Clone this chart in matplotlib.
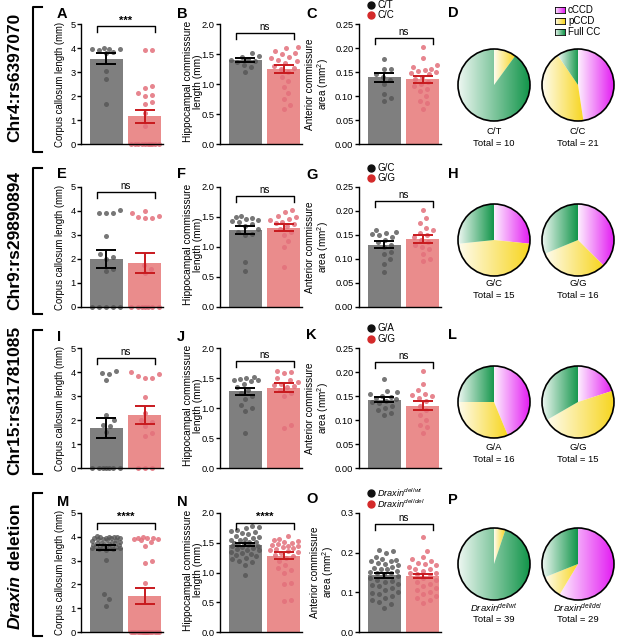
import numpy as np
import matplotlib
matplotlib.use("Agg")
import matplotlib.pyplot as plt
from matplotlib.lines import Line2D
from matplotlib.patches import Circle

plt.rcParams['font.family'] = ['Liberation Sans', 'DejaVu Sans']
plt.rcParams['mathtext.fontset'] = 'custom'
plt.rcParams['mathtext.rm'] = 'Liberation Sans'
plt.rcParams['mathtext.it'] = 'Liberation Sans:italic'
plt.rcParams['mathtext.bf'] = 'Liberation Sans:bold'

# ---------------- data ----------------
row_labels = ["Chr4:rs6397070", "Chr9:rs29890894", "Chr15:rs31781085", "Draxin deletion"]
group_labels = [["C/T", "C/C"], ["G/C", "G/G"], ["G/A", "G/G"],
                [r"$Draxin^{del/wt}$", r"$Draxin^{del/del}$"]]
pie_totals = [[10, 21], [15, 16], [16, 15], [39, 29]]
pie_categories = ["cCCD", "pCCD", "Full CC"]
# counts [cCCD, pCCD, Full CC]
pie_D = [[0, 1, 9], [10, 9, 2]]
pie_H = [[4, 7, 4], [6, 5, 5]]
pie_L = [[7, 5, 4], [3, 7, 5]]
pie_P = [[0, 2, 37], [17, 3, 9]]

A_g = [3.95, 3.95, 4.0, 3.95, 3.9, 3.78, 3.82, 3.05, 2.72, 1.67]
A_r = [0, 0, 0, 0, 0, 0, 0, 0, 0, 0, 3.93, 3.92, 2.42, 2.35, 2.12, 2.0, 2.05, 1.75, 1.65, 1.3, 0.75]
B_g = [1.52, 1.47, 1.45, 1.42, 1.40, 1.38, 1.37, 1.32, 1.28, 1.2]
B_r = [1.62, 1.6, 1.55, 1.52, 1.5, 1.45, 1.43, 1.4, 1.38, 1.35, 1.3, 1.27, 1.25, 1.2, 1.12,
       1.05, 0.95, 0.85, 0.75, 0.65, 0.58]
C_g = [0.177, 0.157, 0.156, 0.145, 0.14, 0.133, 0.125, 0.105, 0.095, 0.09]
C_r = [0.203, 0.18, 0.165, 0.16, 0.157, 0.155, 0.152, 0.15, 0.148, 0.145, 0.14, 0.135, 0.13,
       0.125, 0.12, 0.115, 0.11, 0.1, 0.09, 0.085, 0.072]

E_g = [0, 0, 0, 0, 0, 4.05, 3.92, 3.92, 3.92, 2.95, 2.2, 2.1, 2.0, 1.6, 1.5]
E_r = [0, 0, 0, 0, 0, 0, 0, 4.0, 3.92, 3.78, 3.75, 3.72, 3.7, 1.75, 1.6, 1.4]
F_g = [1.52, 1.5, 1.48, 1.47, 1.45, 1.43, 1.42, 1.38, 1.35, 1.3, 1.25, 1.22, 1.2, 0.75, 0.6]
F_r = [1.62, 1.58, 1.52, 1.5, 1.47, 1.45, 1.42, 1.4, 1.38, 1.35, 1.3, 1.25, 1.2, 1.1, 1.0, 0.67]
G_g = [0.16, 0.157, 0.155, 0.152, 0.15, 0.145, 0.14, 0.135, 0.13, 0.125, 0.115, 0.11, 0.1, 0.09, 0.072]
G_r = [0.203, 0.185, 0.175, 0.165, 0.16, 0.155, 0.15, 0.145, 0.14, 0.135, 0.13, 0.125, 0.12,
       0.11, 0.1, 0.095]

I_g = [0, 0, 0, 0, 0, 0, 0, 4.05, 3.95, 3.92, 3.65, 2.2, 2.0, 1.8, 1.75, 1.5]
I_r = [0, 0, 0, 4.0, 3.9, 3.85, 3.75, 3.75, 2.95, 2.3, 2.0, 1.9, 1.75, 1.45, 1.35]
J_g = [1.52, 1.5, 1.48, 1.47, 1.46, 1.45, 1.4, 1.35, 1.3, 1.25, 1.2, 1.15, 1.05, 1.0, 0.95, 0.58]
J_r = [1.62, 1.6, 1.58, 1.5, 1.46, 1.43, 1.4, 1.38, 1.36, 1.35, 1.3, 1.25, 1.2, 0.72, 0.67]
K_g = [0.185, 0.16, 0.158, 0.155, 0.15, 0.148, 0.145, 0.143, 0.14, 0.138, 0.135, 0.13, 0.125,
       0.12, 0.115, 0.11]
K_r = [0.203, 0.175, 0.162, 0.155, 0.152, 0.15, 0.145, 0.14, 0.13, 0.12, 0.11, 0.1, 0.09, 0.085, 0.072]

M_g = [4.02, 4.00, 4.00, 3.98, 3.98, 3.97, 3.95, 3.95, 3.93, 3.92, 3.90, 3.88, 3.85, 3.83, 3.80,
       3.78, 3.76, 3.74, 3.72, 3.70, 3.68, 3.66, 3.65, 3.63, 3.62, 3.60, 3.60, 3.58, 3.57, 3.55,
       3.54, 3.52, 3.50, 3.48, 3.45, 3.01, 1.58, 1.37, 1.10]
M_r = [0, 0, 0, 0, 0, 0, 0, 0, 0, 0, 0, 0, 0, 0, 0, 0, 0,
       3.98, 3.97, 3.95, 3.93, 3.92, 3.90, 3.85, 3.78, 3.60, 2.97, 2.89, 2.04]
N_g = [1.78, 1.76, 1.74, 1.72, 1.70, 1.68, 1.66, 1.64, 1.62, 1.60, 1.58, 1.56, 1.55, 1.54, 1.52,
       1.51, 1.50, 1.49, 1.48, 1.47, 1.46, 1.45, 1.44, 1.43, 1.42, 1.40, 1.38, 1.37, 1.35, 1.33,
       1.31, 1.29, 1.27, 1.25, 1.22, 1.20, 1.17, 1.13, 0.95]
N_r = [1.62, 1.57, 1.55, 1.53, 1.52, 1.50, 1.48, 1.47, 1.45, 1.44, 1.43, 1.42, 1.40, 1.38, 1.36,
       1.35, 1.33, 1.30, 1.27, 1.25, 1.20, 1.12, 1.08, 1.05, 1.00, 0.82, 0.81, 0.54, 0.52]
O_g = [0.207, 0.205, 0.200, 0.190, 0.185, 0.182, 0.180, 0.178, 0.175, 0.172, 0.170, 0.165, 0.162,
       0.160, 0.158, 0.155, 0.152, 0.150, 0.148, 0.145, 0.140, 0.135, 0.130, 0.128, 0.125, 0.120,
       0.118, 0.115, 0.110, 0.105, 0.100, 0.098, 0.095, 0.090, 0.085, 0.080, 0.075, 0.070, 0.061]
O_r = [0.239, 0.205, 0.190, 0.185, 0.180, 0.175, 0.172, 0.170, 0.165, 0.160, 0.158, 0.155, 0.150,
       0.148, 0.145, 0.140, 0.135, 0.130, 0.125, 0.120, 0.115, 0.110, 0.105, 0.100, 0.095, 0.090,
       0.085, 0.080, 0.073]

means = {"A": [3.55, 1.15], "B": [1.40, 1.25], "C": [0.139, 0.135],
         "E": [2.0, 1.85], "F": [1.28, 1.32], "G": [0.130, 0.142],
         "I": [1.67, 2.2], "J": [1.28, 1.34], "K": [0.142, 0.130],
         "M": [3.55, 1.50], "N": [1.47, 1.28], "O": [0.143, 0.141]}
sems = {"A": [0.23, 0.28], "B": [0.035, 0.06], "C": [0.009, 0.007],
        "E": [0.39, 0.42], "F": [0.07, 0.06], "G": [0.007, 0.008],
        "I": [0.43, 0.38], "J": [0.06, 0.07], "K": [0.005, 0.009],
        "M": [0.1, 0.33], "N": [0.03, 0.06], "O": [0.007, 0.006]}
sig = {"A": "***", "B": "ns", "C": "ns", "E": "ns", "F": "ns", "G": "ns",
       "I": "ns", "J": "ns", "K": "ns", "M": "****", "N": "****", "O": "ns"}

# ---------------- style / layout ----------------
W, H = 617, 644
fig = plt.figure(figsize=(W / 100, H / 100), dpi=100)

GRAY_BAR = '#7f7f7f'
RED_BAR = '#ea8c8c'
GRAY_DOT = '#555555'
RED_DOT = '#e3707b'
RED_ERR = '#c8191e'
PIE_COLS = ['#e31cf2', '#f7d51d', '#12954a']

def fx(x):
    return x / W

def fy(y):
    return 1 - y / H

def add_ax(l, t, w, h):
    return fig.add_axes([l / W, 1 - (t + h) / H, w / W, h / H])

row_top = [24, 187, 348, 513]
row_h = [120, 120, 120, 119]
col_left = [81, 220, 359]
AX_W = 82
XLIM = (-0.66, 1.47)
SPACING = 7.0  # px between dot centres in the swarm

def swarm(vals, px_x, px_y, half_px):
    vals = np.asarray(vals, float)
    order = np.argsort(vals, kind='stable')
    cands = [0]
    k = 1
    while k <= half_px:
        cands += [k, -k]
        k += 1
    placed = []
    off = np.zeros(len(vals))
    for i in order:
        y = vals[i] * px_y
        best, bestscore = 0, -1
        chosen = None
        for c in cands:
            if placed:
                p = np.array(placed)
                md = np.min(np.hypot(p[:, 0] - c, p[:, 1] - y))
            else:
                md = np.inf
            if md >= SPACING:
                chosen = c
                break
            if md > bestscore:
                bestscore, best = md, c
        if chosen is None:
            chosen = best
        placed.append((chosen, y))
        off[i] = chosen / px_x
    return off

kinds = {
    "cc": dict(ymax=5, ticks=[0, 1, 2, 3, 4, 5], fmt="{:.0f}", fs=6.9,
               label="Corpus callosum length (mm)", lx=-0.25, ly=0.5),
    "hc": dict(ymax=2, ticks=[0, 0.5, 1.0, 1.5, 2.0], fmt="{:.1f}", fs=7.3,
               label="Hippocampal commisssure\nlength (mm)", lx=-0.335, ly=0.52),
    "ac": dict(ymax=0.25, ticks=[0, 0.05, 0.10, 0.15, 0.20, 0.25], fmt="{:.2f}", fs=7.2,
               label="Anterior commissure\narea (mm$^{2}$)", lx=-0.50, ly=0.5),
    "ac3": dict(ymax=0.3, ticks=[0, 0.1, 0.2, 0.3], fmt="{:.1f}", fs=7.2,
                label="Anterior commissure\narea (mm$^{2}$)", lx=-0.44, ly=0.5),
}

panels = [
    ("A", 0, 0, "cc", A_g, A_r, 0.98), ("B", 0, 1, "hc", B_g, B_r, 0.925), ("C", 0, 2, "ac", C_g, C_r, 0.885),
    ("E", 1, 0, "cc", E_g, E_r, 0.96), ("F", 1, 1, "hc", F_g, F_r, 0.925), ("G", 1, 2, "ac", G_g, G_r, 0.885),
    ("I", 2, 0, "cc", I_g, I_r, 0.92), ("J", 2, 1, "hc", J_g, J_r, 0.89), ("K", 2, 2, "ac", K_g, K_r, 0.88),
    ("M", 3, 0, "cc", M_g, M_r, 0.92), ("N", 3, 1, "hc", N_g, N_r, 0.915), ("O", 3, 2, "ac3", O_g, O_r, 0.91),
]

for name, r, c, kind, g, rd, btop in panels:
    kd = kinds[kind]
    h = row_h[r]
    ax = add_ax(col_left[c], row_top[r], AX_W, h)
    ymax = kd["ymax"]
    ax.set_xlim(*XLIM)
    ax.set_ylim(0, ymax)
    m = means[name]
    s = sems[name]
    ax.bar([0, 1], m, width=0.86, color=[GRAY_BAR, RED_BAR], zorder=1)
    px_x = AX_W / (XLIM[1] - XLIM[0])
    px_y = h / ymax
    for i, (vals, col, a) in enumerate([(g, GRAY_DOT, 0.8), (rd, RED_DOT, 0.85)]):
        off = swarm(vals, px_x, px_y, 14)
        ax.scatter(i + off, vals, s=13, color=col, alpha=a, linewidths=0, zorder=2, clip_on=False)
    ax.errorbar(0, m[0], yerr=s[0], fmt='none', ecolor='black', elinewidth=1.4,
                capsize=7, capthick=1.4, zorder=4)
    ax.errorbar(1, m[1], yerr=s[1], fmt='none', ecolor=RED_ERR, elinewidth=1.4,
                capsize=7, capthick=1.4, zorder=4)
    for sp in ['top', 'right']:
        ax.spines[sp].set_visible(False)
    for sp in ['left', 'bottom']:
        ax.spines[sp].set_linewidth(1.0)
    ax.set_xticks([])
    ax.set_yticks(kd["ticks"])
    ax.set_yticklabels([kd["fmt"].format(t) for t in kd["ticks"]])
    ax.tick_params(axis='y', length=2.8, width=1.0, pad=1.2, labelsize=6.7)
    ax.set_ylabel(kd["label"], fontsize=kd["fs"], va='center', linespacing=1.0)
    ax.yaxis.set_label_coords(kd["lx"], kd["ly"])
    # significance bracket
    top = btop * ymax
    leg = 6 * ymax / h
    ax.plot([-0.25, -0.25, 1.25, 1.25], [top - leg, top, top, top - leg],
            color='black', lw=1.0, clip_on=False, zorder=5)
    st = sig[name]
    ax.text(0.5, top + 1.0 * ymax / h, st, ha='center', va='bottom',
            fontsize=8 if st != "ns" else 7, fontweight='bold' if st != "ns" else 'normal')

# legends for the AC panels
for r in range(4):
    t = row_top[r]
    step = 10.5 if r < 3 else 11.5
    start = -19.5 if r < 3 else -20.5
    fs = 7 if r < 3 else 6.6
    for j, (col, lab) in enumerate(zip(['#111111', '#d42a2a'], group_labels[r])):
        yy = t + start + j * step
        fig.add_artist(Line2D([fx(371)], [fy(yy)], marker='o', markersize=5, color=col,
                              linestyle='none', transform=fig.transFigure))
        fig.text(fx(377), fy(yy), lab, fontsize=fs, ha='left', va='center')

# panel letters
letter_pos = {"A": (57, 7), "B": (177, 7), "C": (306, 7), "D": (448, 6),
              "E": (57, 167), "F": (177, 167), "G": (306, 168), "H": (448, 167),
              "I": (57, 330), "J": (177, 330), "K": (306, 328), "L": (448, 328),
              "M": (57, 495), "N": (177, 495), "O": (306, 492), "P": (448, 493)}
for k, (x, y) in letter_pos.items():
    fig.text(fx(x), fy(y), k, fontsize=10.5, fontweight='bold', ha='left', va='top')

# brackets and row labels on the left
brk = [(7, 152), (168, 314), (330, 474), (493, 636)]
lab_y = [77, 240, 400, 566]
for r, (y0, y1) in enumerate(brk):
    fig.add_artist(Line2D([fx(42), fx(33), fx(33), fx(42)], [fy(y0), fy(y0), fy(y1), fy(y1)],
                          color='black', lw=1.5, transform=fig.transFigure))
    if r < 3:
        fig.text(fx(15), fy(lab_y[r]), row_labels[r], rotation=90, fontsize=12.5,
                 fontweight='bold', ha='center', va='center')

# "Draxin deletion" with italic Draxin
renderer = fig.canvas.get_renderer()
w1txt, w2txt = row_labels[3].split(" ", 1)
t1 = fig.text(0, 0, w1txt, rotation=90, fontsize=12.5, fontweight='bold', fontstyle='italic')
t2 = fig.text(0, 0, " " + w2txt, rotation=90, fontsize=12.5, fontweight='bold')
h1 = t1.get_window_extent(renderer).height
h2 = t2.get_window_extent(renderer).height
ybot = (H - lab_y[3]) - (h1 + h2) / 2
for t, yy in [(t1, ybot), (t2, ybot + h1)]:
    t.set_rotation_mode('anchor')
    t.set_ha('left')
    t.set_va('center')
    t.set_position((fx(15), yy / H))

# ---------------- pies ----------------
def grad_img(col):
    end = np.array(matplotlib.colors.to_rgb(col))
    start = 0.93 * np.ones(3) + 0.07 * end
    start = np.clip(start, 0, 1)
    tt = np.linspace(0, 1, 256)[:, None]
    row = (1 - tt) * start + tt * end
    return np.stack([row, row], axis=0)

pie_rows = [pie_D, pie_H, pie_L, pie_P]
pie_cy = [85, 240, 402, 564]
pie_cx = [494, 578]
pie_lab_y = [(131, 143), (283, 295), (448, 459), (608, 619)]
R = 36
for r in range(4):
    for j in range(2):
        counts = pie_rows[r][j]
        cx, cy = pie_cx[j], pie_cy[r]
        s = R * 1.05
        pax = add_ax(cx - s, cy - s, 2 * s, 2 * s)
        wedges, _ = pax.pie(counts, startangle=90, counterclock=False, radius=1,
                            colors=['none'] * 3, wedgeprops=dict(linewidth=0, edgecolor='none'))
        for w, cnt, col in zip(wedges, counts, PIE_COLS):
            if cnt == 0:
                continue
            ext = w.get_path().get_extents()
            im = pax.imshow(grad_img(col), extent=[ext.x0, ext.x1, ext.y0, ext.y1],
                            origin='lower', aspect='auto', interpolation='bilinear', zorder=1)
            im.set_clip_path(w)
        pax.add_patch(Circle((0, 0), 1, fill=False, lw=1.2, ec='black', zorder=3))
        pax.set_xlim(-1.05, 1.05)
        pax.set_ylim(-1.05, 1.05)
        pax.set_aspect('equal')
        pax.axis('off')
        fig.text(fx(cx), fy(pie_lab_y[r][0]), group_labels[r][j], fontsize=6.8, ha='center', va='center')
        fig.text(fx(cx), fy(pie_lab_y[r][1]), "Total = %d" % pie_totals[r][j], fontsize=6.8,
                 ha='center', va='center')

# pie legend (D)
for k, (lab, col) in enumerate(zip(pie_categories, PIE_COLS)):
    yy = 10 + k * 11
    lax = add_ax(555, yy - 3, 10, 6)
    lax.imshow(grad_img(col), extent=[0, 1, 0, 1], aspect='auto', interpolation='bilinear')
    lax.set_xticks([])
    lax.set_yticks([])
    for sp in lax.spines.values():
        sp.set_linewidth(0.6)
    fig.text(fx(568), fy(yy), lab, fontsize=7, ha='left', va='center')

fig.savefig("out.png", dpi=100)
